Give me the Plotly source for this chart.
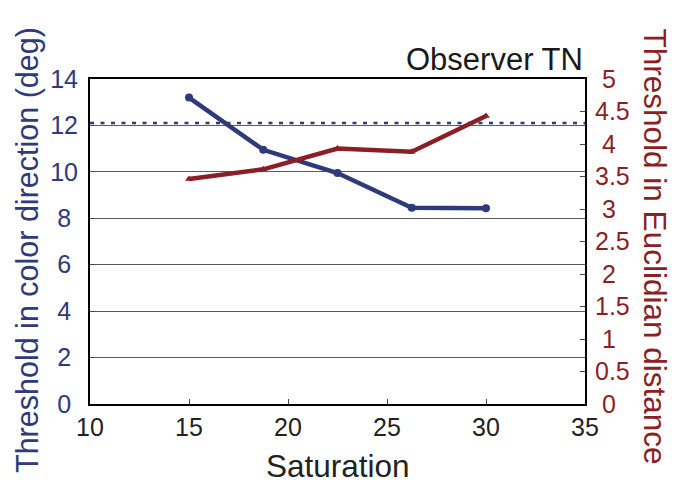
import plotly.graph_objects as go

# Saturation levels tested
saturation = [15, 18.75, 22.5, 26.25, 30]
# Threshold along the colour direction (deg), left axis
thr_color_deg = [13.2, 10.95, 9.95, 8.45, 8.43]
# Threshold as Euclidian distance, right axis
thr_euclid = [3.46, 3.61, 3.93, 3.88, 4.43]
# Reference level drawn as a dotted line (deg)
ref_level = 12.1

x_ticks = [10, 15, 20, 25, 30, 35]
y_ticks = [0, 2, 4, 6, 8, 10, 12, 14]
y2_ticks = [0, 0.5, 1, 1.5, 2, 2.5, 3, 3.5, 4, 4.5, 5]

BLUE = "#2e3a7a"
RED = "#8b1f25"
FONT = "Liberation Sans, Arial, Helvetica, sans-serif"
NB = "\u00a0"


def left_label(v):
    s = str(v)
    return s + NB if len(s) == 1 else s


def right_label(v):
    s = ("%g" % v)
    return NB + s if len(s) == 1 else s


fig = go.Figure()

fig.add_trace(go.Scatter(
    x=[x_ticks[0], x_ticks[-1]], y=[ref_level, ref_level], mode="lines",
    line=dict(color=BLUE, width=2.5, dash="4px,6.5px"),
    hoverinfo="skip", showlegend=False, yaxis="y"))

fig.add_trace(go.Scatter(
    x=saturation, y=thr_color_deg, mode="lines+markers",
    line=dict(color=BLUE, width=4.5),
    marker=dict(color=BLUE, size=8, symbol="circle"),
    showlegend=False, yaxis="y"))

fig.add_trace(go.Scatter(
    x=saturation, y=thr_euclid, mode="lines+markers",
    line=dict(color=RED, width=4.5),
    marker=dict(color=RED, size=7, symbol="triangle-up"),
    showlegend=False, yaxis="y2"))

fig.update_layout(
    width=678, height=485,
    margin=dict(l=90, r=93, t=79, b=81),
    paper_bgcolor="white", plot_bgcolor="white",
    font=dict(family=FONT, size=25, color="#222222"),
    xaxis=dict(
        range=[10, 35], tickvals=x_ticks, ticktext=[str(v) for v in x_ticks],
        ticks="inside", ticklen=5, tickwidth=1, tickcolor="#444444",
        showline=True, linecolor="black", linewidth=2, mirror=True,
        showgrid=False, zeroline=False, automargin=False,
        tickfont=dict(size=25, color="#222222"),
    ),
    yaxis=dict(
        range=[0, 14], tickvals=y_ticks, ticktext=[left_label(v) for v in y_ticks],
        ticks="inside", ticklen=4, tickcolor="#444444", ticklabelstandoff=5,
        showline=True, linecolor="black", linewidth=2,
        showgrid=True, gridcolor="#5a5a5a", gridwidth=1, zeroline=False,
        automargin=False,
        tickfont=dict(size=25, color=BLUE),
    ),
    yaxis2=dict(
        range=[0, 5], tickvals=y2_ticks, ticktext=[right_label(v) for v in y2_ticks],
        overlaying="y", side="right",
        ticks="inside", ticklen=5, tickcolor="#444444", ticklabelstandoff=3,
        showline=True, linecolor="black", linewidth=2,
        showgrid=False, zeroline=False, automargin=False,
        tickfont=dict(size=25, color=RED),
    ),
    annotations=[
        dict(text="Observer TN", xref="paper", yref="paper", x=1, y=1,
             xanchor="right", yanchor="bottom", yshift=0, showarrow=False,
             font=dict(size=31, color="#1a1a1a", family=FONT)),
        # x-axis title
        dict(text="Saturation", xref="paper", yref="paper",
             x=0.5, y=-0.1908, xanchor="center", yanchor="middle",
             showarrow=False, font=dict(size=31.5, color="#222222", family=FONT)),
        # left-hand axis title, reading bottom to top
        dict(text="Threshold in color direction (deg)", xref="paper", yref="paper",
             x=-0.1273, y=0.4738, xanchor="center", yanchor="middle",
             textangle=-90, showarrow=False,
             font=dict(size=30.5, color=BLUE, family=FONT)),
        # right-hand axis title, reading top to bottom
        dict(text="Threshold in Euclidian distance", xref="paper", yref="paper",
             x=1.1434, y=0.4846, xanchor="center", yanchor="middle",
             textangle=90, showarrow=False,
             font=dict(size=31.5, color=RED, family=FONT)),
    ],
)

fig.write_html("out.html")
